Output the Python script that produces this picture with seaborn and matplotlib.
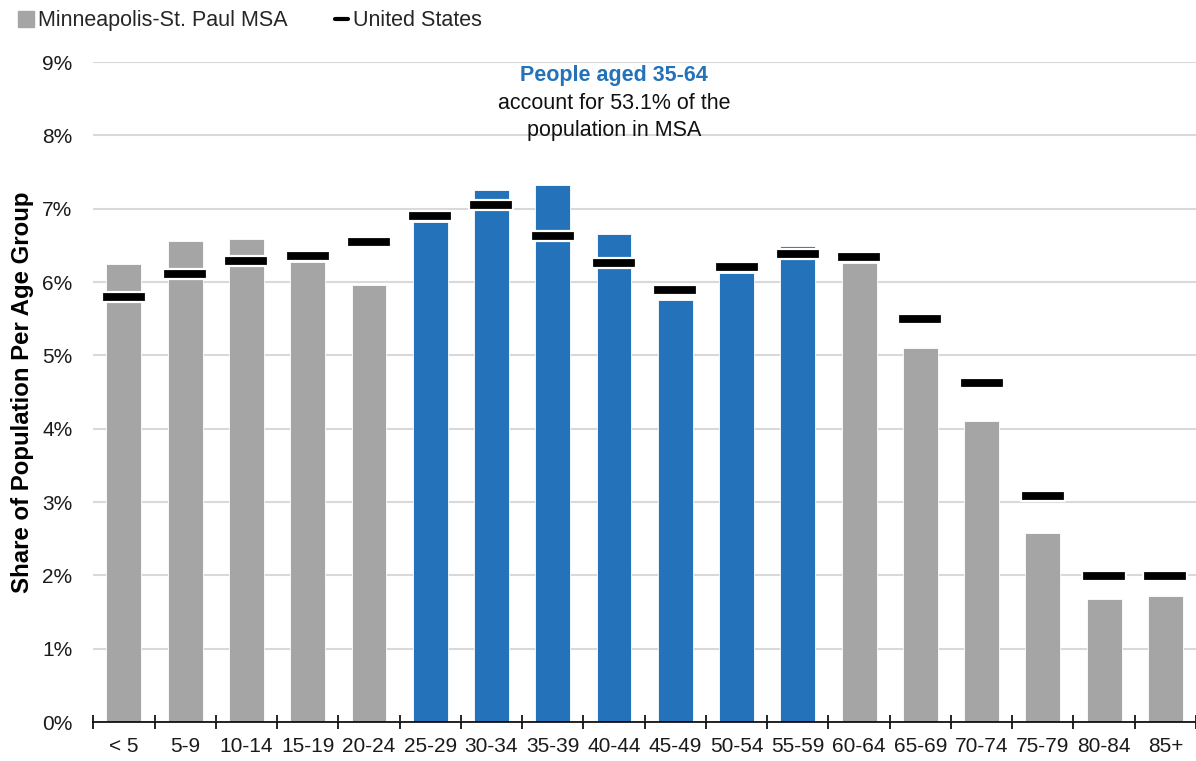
import matplotlib
matplotlib.use("Agg")
import matplotlib.pyplot as plt
import seaborn as sns
import pandas as pd
import numpy as np
from matplotlib.path import Path
from matplotlib.lines import Line2D
from matplotlib.ticker import FuncFormatter, FixedLocator

age_groups = ["< 5", "5-9", "10-14", "15-19", "20-24", "25-29", "30-34", "35-39",
              "40-44", "45-49", "50-54", "55-59", "60-64", "65-69", "70-74",
              "75-79", "80-84", "85+"]
msa_share = [6.25, 6.56, 6.59, 6.27, 5.96, 6.82, 7.25, 7.32, 6.65, 5.75, 6.12,
             6.49, 6.26, 5.10, 4.10, 2.58, 1.68, 1.72]
us_share = [5.80, 6.11, 6.29, 6.35, 6.55, 6.90, 7.05, 6.63, 6.26, 5.89, 6.20,
            6.38, 6.34, 5.50, 4.62, 3.08, 1.99, 1.99]
highlight = ["25-29", "30-34", "35-39", "40-44", "45-49", "50-54", "55-59"]

GRAY = "#a5a5a5"
BLUE = "#2372ba"

df = pd.DataFrame({"age": age_groups, "msa": msa_share, "us": us_share})
df["grp"] = np.where(df["age"].isin(highlight), "hl", "base")

sns.set_style("white")
plt.rcParams["font.family"] = ["Liberation Sans", "DejaVu Sans"]

fig = plt.figure(figsize=(11.96, 7.61), dpi=100)
ax = fig.add_axes([0.078, 0.0512, 0.922, 0.8673])

sns.barplot(data=df, x="age", y="msa", hue="grp", palette={"base": GRAY, "hl": BLUE},
            order=age_groups, dodge=False, width=0.57, legend=False, ax=ax,
            saturation=1, edgecolor="white", linewidth=0.6, zorder=2)

rect = Path([(-1, -0.21), (1, -0.21), (1, 0.21), (-1, 0.21), (-1, -0.21)],
            [Path.MOVETO, Path.LINETO, Path.LINETO, Path.LINETO, Path.CLOSEPOLY])
sns.scatterplot(data=df, x="age", y="us", marker=rect, s=1000, color="black",
                edgecolor="white", linewidth=1.6, ax=ax, zorder=4, legend=False)

ax.set_ylim(0, 9)
ax.set_xlim(-0.5, len(age_groups) - 0.5)
ax.set_yticks(range(0, 10))
ax.yaxis.set_major_formatter(FuncFormatter(lambda v, p: f"{v:.0f}%"))
ax.grid(axis="y", color="#d9d9d9", linewidth=1.5, zorder=0)
ax.set_axisbelow(True)
for s in ["left", "right", "top"]:
    ax.spines[s].set_visible(False)
ax.spines["bottom"].set_color("black")
ax.spines["bottom"].set_linewidth(1.2)
ax.spines["bottom"].set_zorder(5)

ax.tick_params(axis="y", length=0, labelsize=15, pad=15, labelcolor="#1a1a1a")
ax.tick_params(axis="x", which="major", length=0, labelsize=15, pad=11, labelcolor="#1a1a1a")
ax.xaxis.set_minor_locator(FixedLocator(np.arange(-0.5, len(age_groups), 1.0)))
ax.tick_params(axis="x", which="minor", bottom=True, length=10, width=1.2,
               direction="inout", color="black")

ax.set_xlabel("")
ax.set_ylabel("Share of Population Per Age Group", fontsize=17.3, fontweight="bold",
              labelpad=6, color="black")

ax.text(8.0, 8.82, "People aged 35-64", color=BLUE, fontweight="bold", fontsize=15.5,
        ha="center", va="center")
ax.text(8.0, 8.44, "account for 53.1% of the", color="#111111", fontsize=15.5,
        ha="center", va="center")
ax.text(8.0, 8.07, "population in MSA", color="#111111", fontsize=15.5,
        ha="center", va="center")

handles = [Line2D([], [], marker="s", linestyle="none", color=GRAY, markersize=11),
           Line2D([], [], color="black", linewidth=3)]
fig.legend(handles, ["Minneapolis-St. Paul MSA", "United States"], loc="upper left",
           bbox_to_anchor=(0.0, 1.012), ncol=2, frameon=False, fontsize=15.5,
           handlelength=0.6, handletextpad=0.25, columnspacing=2.2)

fig.savefig("out.png", dpi=100)
